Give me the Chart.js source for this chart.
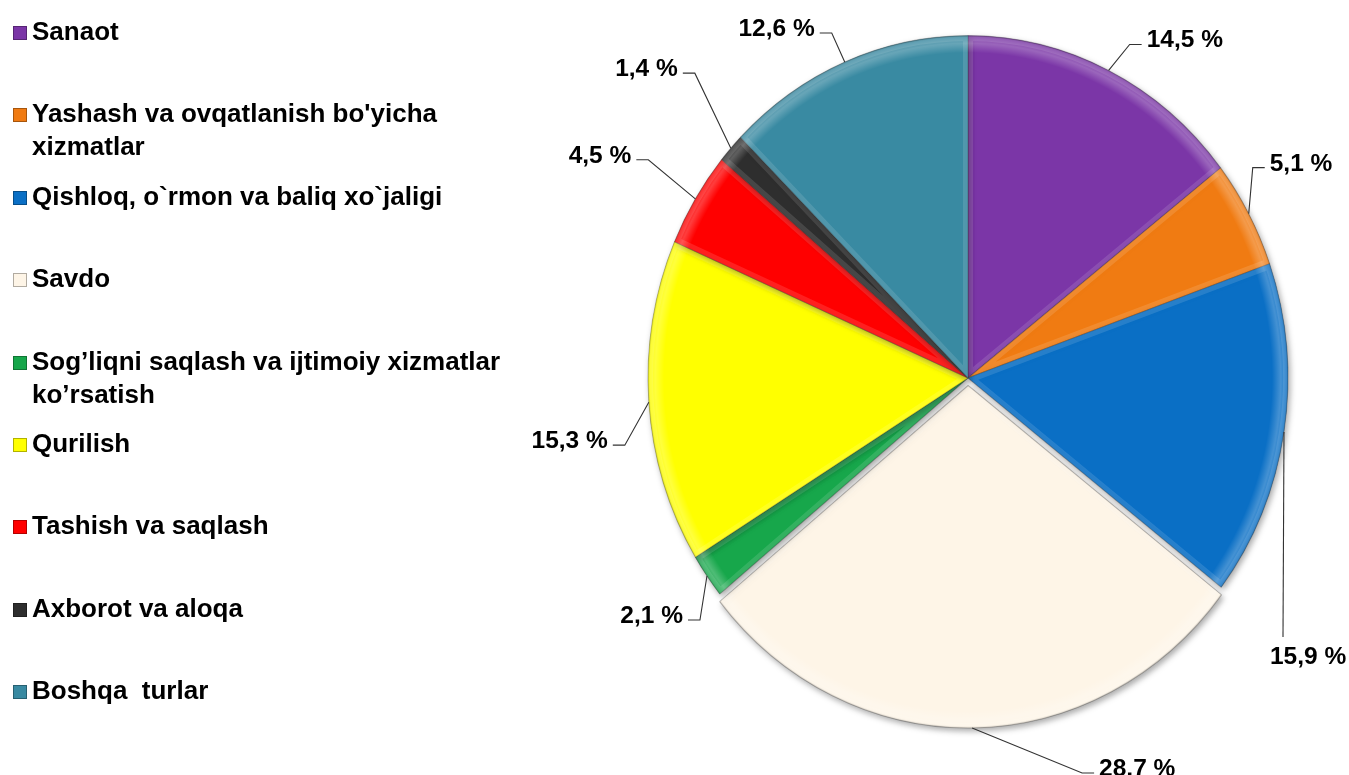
<!DOCTYPE html>
<html>
<head>
<meta charset="utf-8">
<script src="https://cdn.jsdelivr.net/npm/chart.js@4.4.0/dist/chart.umd.min.js"></script>
<style>
  html, body { margin: 0; padding: 0; background: #fff; overflow: hidden; }
  #wrap { position: relative; width: 1349px; height: 775px; }
  #c { position: absolute; left: 0; top: 0; }
  #legend { position: absolute; left: 13px; top: 15px; font: bold 26px "Liberation Sans", Arial, sans-serif; color: #000; }
  .item { height: 82.4px; display: flex; align-items: flex-start; }
  .box { width: 14px; height: 14px; margin-top: 11px; margin-right: 5px; flex: none; box-sizing: border-box; border: 1px solid rgba(0,0,0,0.3); }
  .txt { line-height: 33px; white-space: pre; }
</style>
</head>
<body>
<div id="wrap">
  <canvas id="c" width="1349" height="775"></canvas>
  <div id="legend"></div>
</div>
<script>
// categories (multi-line ones as arrays of lines)
const categories = [
  'Sanaot',
  ["Yashash va ovqatlanish bo'yicha", 'xizmatlar'],
  'Qishloq, o`rmon va baliq xo`jaligi',
  'Savdo',
  ['Sog’liqni saqlash va ijtimoiy xizmatlar', 'ko’rsatish'],
  'Qurilish',
  'Tashish va saqlash',
  'Axborot va aloqa',
  'Boshqa  turlar'
];
const shares = [14.5, 5.1, 15.9, 28.7, 2.1, 15.3, 4.5, 1.4, 12.6];
const colors = ['#7B36A7', '#F07B12', '#0A6FC5', '#FEF5E7', '#17A74B', '#FFFF00', '#FF0000', '#2E2E2E', '#398AA2'];

// leader line elbows, relative to the slice edge, and which side the label sits on
const labelElbow = [[21, -26], [4, -46], [-1, 205], [110, 45], [-7, 44], [-24, 43], [-47, -39], [-36, -75], [-13, -29]];
const labelSide = ['right', 'right', 'below', 'right', 'left', 'left', 'left', 'left', 'left'];

const K = 1.07; // picture is slightly taller than wide
const fmt = v => v.toFixed(1).replace('.', ',') + ' %';

// html legend
const legend = document.getElementById('legend');
categories.forEach((c, i) => {
  const item = document.createElement('div');
  item.className = 'item';
  const box = document.createElement('div');
  box.className = 'box';
  box.style.background = colors[i];
  const txt = document.createElement('div');
  txt.className = 'txt';
  txt.textContent = Array.isArray(c) ? c.join('\n') : c;
  item.appendChild(box);
  item.appendChild(txt);
  legend.appendChild(item);
});

function arcShift(arc) {
  const off = (arc.options.offset || 0) / 4;
  const half = (arc.startAngle + arc.endAngle) / 2;
  const fix = 1 - Math.sin(Math.min(Math.PI, arc.endAngle - arc.startAngle));
  const d = off + off * fix;
  return { x: Math.cos(half) * d, y: Math.sin(half) * d };
}

const pieLook = {
  id: 'pieLook',
  beforeDatasetsDraw(chart) {
    const a = chart.getDatasetMeta(0).data[0];
    const ctx = chart.ctx;
    ctx.save();
    ctx.translate(a.x, a.y);
    ctx.scale(1, K);
    ctx.translate(-a.x, -a.y);
    ctx.save();
    ctx.shadowColor = 'rgba(0,0,0,0.35)';
    ctx.shadowBlur = 6;
    ctx.shadowOffsetX = 2;
    ctx.shadowOffsetY = 3;
  },
  afterDatasetsDraw(chart) {
    const ctx = chart.ctx;
    ctx.restore();
    // bevel-ish highlight on each slice
    chart.getDatasetMeta(0).data.forEach(arc => {
      const sh = arcShift(arc);
      const x = arc.x + sh.x, y = arc.y + sh.y, r = arc.outerRadius;
      ctx.save();
      ctx.beginPath();
      ctx.moveTo(x, y);
      ctx.arc(x, y, r, arc.startAngle, arc.endAngle);
      ctx.closePath();
      ctx.clip();
      const g = ctx.createRadialGradient(x, y, r - 16, x, y, r);
      g.addColorStop(0, 'rgba(255,255,255,0)');
      g.addColorStop(0.55, 'rgba(255,255,255,0.24)');
      g.addColorStop(0.88, 'rgba(255,255,255,0.1)');
      g.addColorStop(1, 'rgba(0,0,0,0.2)');
      ctx.fillStyle = g;
      ctx.fillRect(x - r, y - r, 2 * r, 2 * r);
      ctx.lineWidth = 10;
      ctx.strokeStyle = 'rgba(255,255,255,0.12)';
      ctx.stroke();
      ctx.restore();
    });
    ctx.restore();
  },
  afterDraw(chart) {
    const ctx = chart.ctx;
    const meta = chart.getDatasetMeta(0);
    ctx.save();
    ctx.font = 'bold 24.5px "Liberation Sans", Arial, sans-serif';
    ctx.fillStyle = '#000';
    ctx.strokeStyle = '#333';
    ctx.lineWidth = 1.1;
    meta.data.forEach((arc, i) => {
      const sh = arcShift(arc);
      const half = (arc.startAngle + arc.endAngle) / 2;
      const r = arc.outerRadius;
      const ex = arc.x + sh.x + Math.cos(half) * r;
      const ey = arc.y + (sh.y + Math.sin(half) * r) * K;
      const bx = ex + labelElbow[i][0], by = ey + labelElbow[i][1];
      const txt = fmt(shares[i]);
      ctx.beginPath();
      ctx.moveTo(ex, ey);
      ctx.lineTo(bx, by);
      if (labelSide[i] === 'below') {
        ctx.stroke();
        ctx.textAlign = 'left';
        ctx.fillText(txt, bx - 13, by + 27);
      } else {
        const s = labelSide[i] === 'right' ? 1 : -1;
        ctx.lineTo(bx + 12 * s, by);
        ctx.stroke();
        ctx.textAlign = s > 0 ? 'left' : 'right';
        ctx.fillText(txt, bx + 17 * s, by + 3);
      }
    });
    ctx.restore();
  }
};

new Chart(document.getElementById('c'), {
  type: 'pie',
  data: {
    labels: categories,
    datasets: [{
      data: shares,
      backgroundColor: colors,
      borderColor: 'rgba(0,0,0,0.25)',
      borderWidth: 1,
      radius: 320,
      offset: ctx => ctx.dataIndex === 3 ? 28 : 0
    }]
  },
  options: {
    responsive: false,
    devicePixelRatio: 1,
    animation: false,
    events: [],
    radius: 320,
    layout: { padding: { left: 648, right: 61, top: 58, bottom: 77 } },
    plugins: {
      legend: { display: false },
      tooltip: { enabled: false }
    }
  },
  plugins: [pieLook]
});
</script>
</body>
</html>
